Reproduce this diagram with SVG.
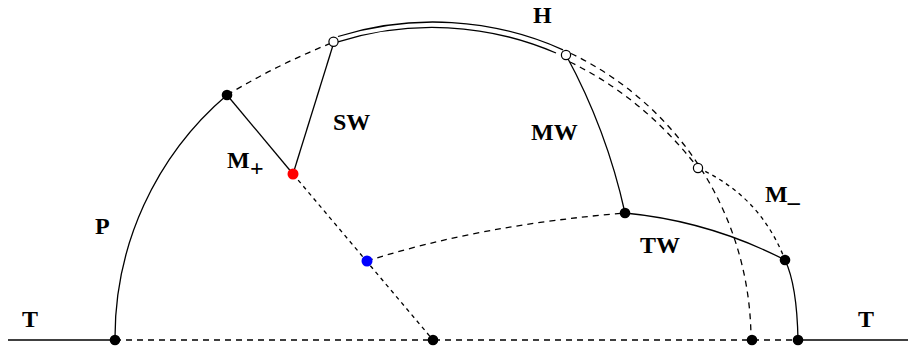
<svg xmlns="http://www.w3.org/2000/svg" width="908" height="349" viewBox="0 0 908 349">
<style>
.s{fill:none;stroke:#000;stroke-width:1.3}
.d{fill:none;stroke:#000;stroke-width:1.3;stroke-dasharray:6 5}
.ds{fill:none;stroke:#000;stroke-width:1.3;stroke-dasharray:4 4}
.dot{fill:#000}
.open{fill:#fff;stroke:#000;stroke-width:1.2}
.lbl{font-family:"Liberation Serif",serif;font-weight:bold;font-size:24px;fill:#000}
</style>
<g id="connectors">
  <line class="s" x1="8" y1="340" x2="115" y2="340"/>
  <line class="d" x1="115" y1="340" x2="798" y2="340"/>
  <line class="s" x1="798" y1="340" x2="908" y2="340"/>
  <path class="s" d="M115,340 A319,319 0 0 1 227,95"/>
  <path class="d" d="M227,95 Q279.5,63.5 334,42"/>
  <path class="s" d="M338,36.5 A318,318 0 0 1 563,49.8"/>
  <path class="s" d="M338,41.8 A313,313 0 0 1 556,53"/>
  <path class="d" d="M571,53.5 A318,318 0 0 1 751,340"/>
  <path class="d" d="M570,62 Q643.8,97.9 698,168"/>
  <path class="ds" d="M698,168 Q760.5,196 785,260"/>
  <line class="s" x1="227" y1="95" x2="293" y2="174"/>
  <line class="s" x1="334" y1="42" x2="293" y2="174"/>
  <line class="ds" x1="293" y1="174" x2="433" y2="340"/>
  <path class="d" d="M367,261 Q480,225 625,213"/>
  <path class="s" d="M566,55 Q606.7,129.8 625,213"/>
  <path class="s" d="M625,213 Q709.6,221.1 785,260"/>
  <path class="s" d="M785,260 Q797,285 798,340"/>
</g>
<g id="n-t1"><circle class="dot" cx="115" cy="340" r="5.3"/></g>
<g id="n-center"><circle class="dot" cx="433" cy="340" r="5.3"/></g>
<g id="n-b752"><circle class="dot" cx="752" cy="340" r="5.3"/></g>
<g id="n-b798"><circle class="dot" cx="798" cy="340" r="5.3"/></g>
<g id="n-ptop"><circle class="dot" cx="227" cy="95" r="5.3"/></g>
<g id="n-mw"><circle class="dot" cx="625" cy="213" r="5.3"/></g>
<g id="n-mminus"><circle class="dot" cx="785" cy="260" r="5.3"/></g>
<g id="n-red"><circle cx="293" cy="174" r="5.5" fill="#ff0000"/></g>
<g id="n-blue"><circle cx="367" cy="261" r="5.5" fill="#0000ff"/></g>
<g id="n-sw"><circle class="open" cx="333.5" cy="41.7" r="4.6"/></g>
<g id="n-hr"><circle class="open" cx="566" cy="55" r="4.6"/></g>
<g id="n-o"><circle class="open" cx="698" cy="168" r="4.6"/></g>
<g id="labels">
  <text class="lbl" x="533" y="23">H</text>
  <text class="lbl" x="333" y="130">SW</text>
  <text class="lbl" x="531" y="140">MW</text>
  <text class="lbl" x="227" y="168">M</text>
  <text class="lbl" x="250" y="176" font-size="21" font-weight="normal">+</text>
  <text class="lbl" x="95" y="234">P</text>
  <text class="lbl" x="640" y="253">TW</text>
  <text class="lbl" x="765" y="202">M_</text>
  <text class="lbl" x="22" y="327">T</text>
  <text class="lbl" x="858" y="327">T</text>
</g>
</svg>
